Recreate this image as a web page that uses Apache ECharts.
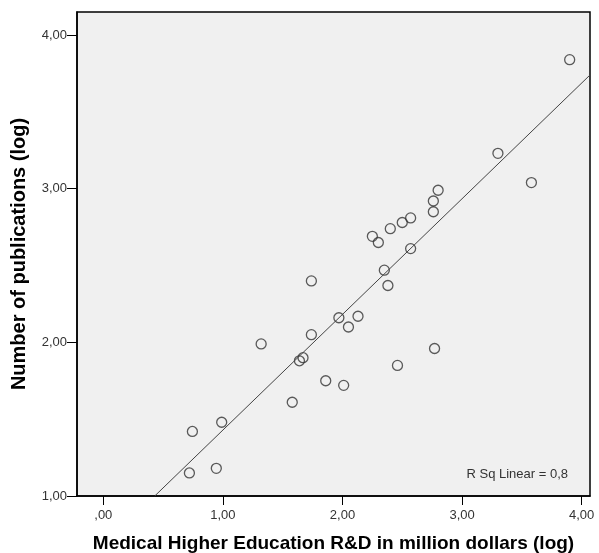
<!DOCTYPE html>
<html>
<head>
<meta charset="utf-8">
<style>
    html, body { margin: 0; padding: 0; background: #fff; }
    #echarts { width: 599px; height: 553px; }
</style>
</head>
<body>
<div id="echarts"></div>
<script src="https://cdn.jsdelivr.net/npm/echarts@6/dist/echarts.min.js"></script>
<script>
    // 散点数据 [R&D (log), publications (log)]
    const rdLog = [3.90, 3.30, 3.58, 2.80, 2.76, 2.76, 2.57, 2.50, 2.40, 2.25, 2.30, 2.57, 2.35, 2.38, 1.74, 1.97,
        2.13, 2.05, 1.74, 1.32, 1.67, 1.64, 2.77, 2.46, 1.86, 2.01, 1.58, 0.99, 0.745, 0.945, 0.72];
    const pubLog = [3.84, 3.23, 3.04, 2.99, 2.92, 2.85, 2.81, 2.78, 2.74, 2.69, 2.65, 2.61, 2.47, 2.37, 2.40, 2.16,
        2.17, 2.10, 2.05, 1.99, 1.90, 1.88, 1.96, 1.85, 1.75, 1.72, 1.61, 1.48, 1.42, 1.18, 1.15];
    // 回归线端点
    const fitX = [0.43, 4.07];
    const fitY = [1.00, 3.74];
    const xTicks = [0, 1, 2, 3, 4];
    const yTicks = [1, 2, 3, 4];
    const rSqText = 'R Sq Linear = 0,8';

    const points = rdLog.map((x, i) => [x, pubLog[i]]);
    const fitLine = fitX.map((x, i) => [x, fitY[i]]);

    function fmt(v) {
        let s = v.toFixed(2).replace('.', ',');
        return s.startsWith('0,') ? s.slice(1) : s;
    }

    let myChart = echarts.init(document.getElementById('echarts'));

    myChart.setOption({
        animation: false,
        textStyle: {fontFamily: 'Liberation Sans, Arial, sans-serif'},
        grid: {
            left: 77, top: 12, right: 9, bottom: 57,
            containLabel: false,
            outerBoundsMode: 'none',
            show: true,
            backgroundColor: '#f0f0f0',
            borderColor: '#000',
            borderWidth: 1.5,
        },
        xAxis: {
            type: 'value',
            min: -0.22,
            max: 4.07,
            name: 'Medical Higher Education R&D in million dollars (log)',
            nameLocation: 'middle',
            nameGap: 38,
            nameTextStyle: {fontSize: 19, fontWeight: 'bold', color: '#000'},
            splitLine: {show: false},
            axisLine: {show: true, onZero: false, lineStyle: {color: '#000', width: 1.5}},
            axisTick: {show: true, length: 9, customValues: xTicks, lineStyle: {color: '#000'}},
            axisLabel: {customValues: xTicks, formatter: fmt, fontSize: 13, color: '#333', margin: 13},
        },
        yAxis: {
            type: 'value',
            min: 1,
            max: 4.15,
            name: 'Number of publications (log)',
            nameLocation: 'middle',
            nameGap: 48,
            nameTextStyle: {fontSize: 20, fontWeight: 'bold', color: '#000'},
            splitLine: {show: false},
            axisLine: {show: true, onZero: false, lineStyle: {color: '#000', width: 1.5}},
            axisTick: {show: true, length: 10, customValues: yTicks, lineStyle: {color: '#000'}},
            axisLabel: {customValues: yTicks, formatter: fmt, fontSize: 13, color: '#333', margin: 10},
        },
        graphic: [{
            type: 'text',
            right: 31,
            bottom: 72,
            style: {text: rSqText, fontSize: 13, fill: '#333', fontFamily: 'Liberation Sans, Arial, sans-serif'},
        }],
        series: [{
            type: 'line',
            data: fitLine,
            showSymbol: false,
            clip: true,
            lineStyle: {color: '#444', width: 1},
        }, {
            type: 'scatter',
            data: points,
            symbol: 'circle',
            symbolSize: 10,
            itemStyle: {color: 'rgba(0,0,0,0)', borderColor: '#333', borderWidth: 1.3},
        }],
    });
</script>
</body>
</html>
